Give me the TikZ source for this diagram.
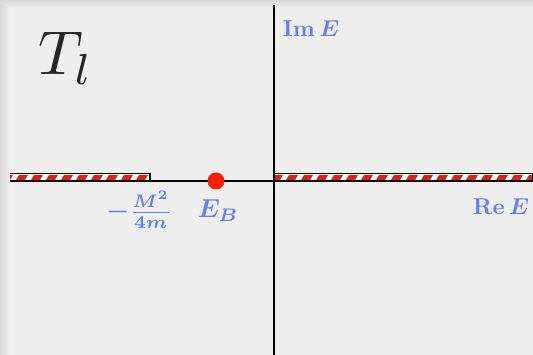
\documentclass[tikz,border=0pt]{standalone}
\usepackage{amsmath}
\usepackage{xcolor}
\usepackage{tikz}
\usetikzlibrary{positioning, calc}
\definecolor{panelgray}{RGB}{238,238,238}
\definecolor{shadegray}{RGB}{214,214,214}
\definecolor{labelblue}{RGB}{105,125,250}
\definecolor{cutred}{RGB}{205,40,30}
\definecolor{polered}{RGB}{255,30,0}

\begin{document}
\begin{tikzpicture}[x=1pt, y=-1pt,
    axis/.style={black, line width=2pt},
    cutedge/.style={black, line width=1.6pt},
    lab/.style={labelblue, inner sep=0pt, scale=2.3, font=\boldmath}]
  \useasboundingbox (0,0) rectangle (533,355);

  % background panel
  \fill[panelgray] (0,0) rectangle (533,355);
  \shade[top color=shadegray, bottom color=panelgray] (0,0) rectangle (533,7);
  \shade[left color=shadegray, right color=panelgray] (0,5) rectangle (9,355);

  % axes
  \coordinate (xl) at (10,181);
  \coordinate (xr) at (533,181);
  \coordinate (yt) at (274,5);
  \coordinate (yb) at (274,355);

  % branch cuts
  \foreach \xa/\xb in {10/150, 274/533} {
    \fill[white] (\xa,174) rectangle (\xb,181);
    \begin{scope}
      \clip (\xa,174) rectangle (\xb,181);
      \foreach \s in {0,15,...,540}
        \fill[cutred] (\s+1,180) -- (\s+10,180) -- (\s+13,175) -- (\s+4,175) -- cycle;
    \end{scope}
    \draw[cutedge] (\xa,173.5) -- (\xb,173.5) -- (\xb,181);
  }

  \draw[axis] (xl) -- (xr);
  \draw[axis] (yt) -- (yb);

  % bound state pole
  \fill[polered] (216,181) circle (8.5);

  % labels
  \node[lab] (imlab) at (311,29) {$\mathrm{Im}\,E$};
  \node[lab] (relab) at (501,207) {$\mathrm{Re}\,E$};
  \node[lab, scale=1.13] (thrlab) at (139,210) {$-\frac{M^2}{4m}$};
  \node[lab, scale=1.13] (eblab) at (218,211) {$E_B$};
  \node[anchor=base west, inner sep=0pt, black!85, scale=6.2] (tlab) at (37,75) {$T_l$};
\end{tikzpicture}
\end{document}
